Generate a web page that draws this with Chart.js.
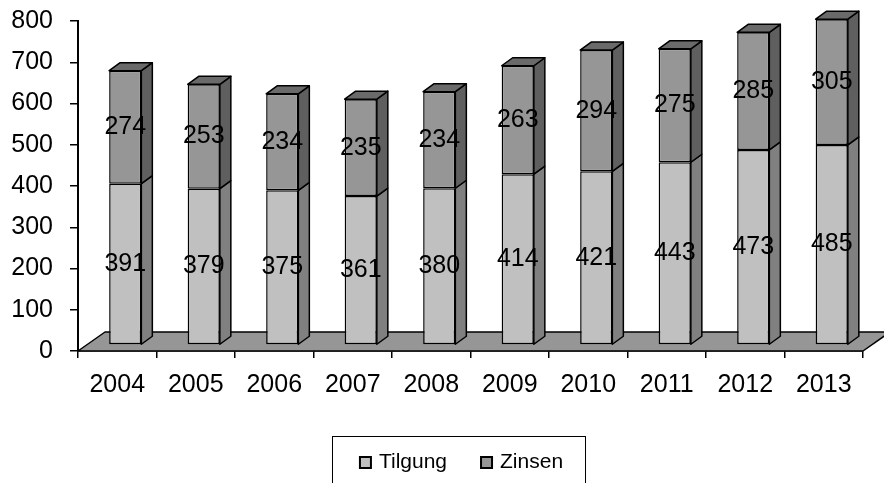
<!DOCTYPE html>
<html>
<head>
<meta charset="utf-8">
<script src="https://cdn.jsdelivr.net/npm/chart.js@4.4.1/dist/chart.umd.min.js"></script>
<style>
  html, body { margin: 0; padding: 0; background: #fff; }
  #wrap { width: 884px; height: 483px; }
</style>
</head>
<body>
<div id="wrap"><canvas id="chart" width="884" height="483"></canvas></div>
<script>
const years = ['2004', '2005', '2006', '2007', '2008', '2009', '2010', '2011', '2012', '2013']
const tilgung = [391, 379, 375, 361, 380, 414, 421, 443, 473, 485]
const zinsen = [274, 253, 234, 235, 234, 263, 294, 275, 285, 305]
const seriesNames = ['Tilgung', 'Zinsen']
const yMin = 0
const yMax = 800
const yStep = 100

const FONT = "'Liberation Sans', Arial, sans-serif"
const frontColors = ['#c0c0c0', '#969696']
const sideColors = ['#808080', '#5f5f5f']
const topColor = '#6a6a6a'
const floorColor = '#969696'

// fake 3d: bar depth, bar offset from the front of the floor, floor depth
const depth = { dx: 11, dy: -8 }
const shift = { dx: 8, dy: -6 }
const floorDepth = { dx: 27, dy: -19 }

function poly(ctx, pts, fill) {
    ctx.beginPath()
    ctx.moveTo(pts[0][0], pts[0][1])
    for (let i = 1; i < pts.length; i++) ctx.lineTo(pts[i][0], pts[i][1])
    ctx.closePath()
    ctx.fillStyle = fill
    ctx.fill()
    ctx.lineWidth = 1.5
    ctx.strokeStyle = '#000'
    ctx.lineJoin = 'round'
    ctx.stroke()
}

const bars3d = {
    id: 'bars3d',
    beforeDatasetsDraw(chart) {
        const { ctx, chartArea: a } = chart
        ctx.save()
        poly(ctx, [
            [a.left, a.bottom],
            [a.right, a.bottom],
            [a.right + floorDepth.dx, a.bottom + floorDepth.dy],
            [a.left + floorDepth.dx, a.bottom + floorDepth.dy]
        ], floorColor)
        ctx.restore()
        ctx.save()
        ctx.translate(shift.dx, shift.dy)
    },
    afterDatasetsDraw(chart) {
        const ctx = chart.ctx
        const last = chart.data.datasets.length - 1
        chart.data.datasets.forEach((ds, i) => {
            chart.getDatasetMeta(i).data.forEach(bar => {
                const { x, y, base, width } = bar.getProps(['x', 'y', 'base', 'width'], true)
                const l = x - width / 2, r = x + width / 2
                poly(ctx, [[r, y], [r + depth.dx, y + depth.dy], [r + depth.dx, base + depth.dy], [r, base]], sideColors[i])
                if (i === last) {
                    poly(ctx, [[l, y], [l + depth.dx, y + depth.dy], [r + depth.dx, y + depth.dy], [r, y]], topColor)
                }
            })
        })
        // value labels in the middle of each front face
        ctx.fillStyle = '#000'
        ctx.font = '25px ' + FONT
        ctx.textAlign = 'center'
        ctx.textBaseline = 'middle'
        chart.data.datasets.forEach((ds, i) => {
            chart.getDatasetMeta(i).data.forEach((bar, j) => {
                const { x, y, base } = bar.getProps(['x', 'y', 'base'], true)
                ctx.fillText(String(ds.data[j]), x, (y + base) / 2)
            })
        })
        ctx.restore()
    }
}

const boxLegend = {
    id: 'boxLegend',
    afterDraw(chart) {
        const ctx = chart.ctx
        const box = { x: 332, y: 436, w: 253, h: 60 }
        ctx.save()
        ctx.lineWidth = 1
        ctx.strokeStyle = '#000'
        ctx.strokeRect(box.x + 0.5, box.y + 0.5, box.w, box.h)

        ctx.font = '21px ' + FONT
        ctx.textBaseline = 'alphabetic'
        ctx.textAlign = 'left'
        const sw = 11, gap = 8, between = 34
        const widths = chart.data.datasets.map(d => ctx.measureText(d.label).width)
        const total = widths.reduce((s, w) => s + sw + gap + w, 0) + between * (widths.length - 1)
        let x = box.x + box.w / 2 - total / 2 + 3
        const baseline = 468
        chart.data.datasets.forEach((d, i) => {
            ctx.fillStyle = d.backgroundColor
            ctx.fillRect(x, baseline - 11, sw, sw)
            ctx.lineWidth = 2
            ctx.strokeStyle = '#000'
            ctx.strokeRect(x, baseline - 11, sw, sw)
            ctx.fillStyle = '#000'
            ctx.fillText(d.label, x + sw + gap, baseline)
            x += sw + gap + widths[i] + between
        })
        ctx.restore()
    }
}

new Chart(document.getElementById('chart'), {
    type: 'bar',
    data: {
        labels: years,
        datasets: [tilgung, zinsen].map((values, i) => ({
            label: seriesNames[i],
            data: values,
            backgroundColor: frontColors[i],
            borderColor: '#000',
            borderWidth: 1.5,
            borderSkipped: false,
            barPercentage: 0.41,
            categoryPercentage: 1,
            clip: false
        }))
    },
    options: {
        responsive: false,
        animation: false,
        events: [],
        layout: { padding: { top: 21, right: 21, left: 0, bottom: 0 } },
        plugins: {
            legend: { display: false },
            tooltip: { enabled: false }
        },
        scales: {
            x: {
                stacked: true,
                afterFit: s => { s.height = 132; s.paddingLeft = 0; s.paddingRight = 0 },
                grid: { drawOnChartArea: false, color: '#000', lineWidth: 1.5, tickLength: 7 },
                border: { color: '#000', width: 1.5 },
                ticks: { color: '#000', padding: 12, font: { family: FONT, size: 25 }, maxRotation: 0 }
            },
            y: {
                stacked: true,
                min: yMin,
                max: yMax,
                afterFit: s => { s.width = 78; s.paddingTop = 0; s.paddingBottom = 0 },
                grid: { drawOnChartArea: false, color: '#000', lineWidth: 1.5, tickLength: 8 },
                border: { color: '#000', width: 2 },
                ticks: { stepSize: yStep, color: '#000', padding: 17, font: { family: FONT, size: 25 } }
            }
        }
    },
    plugins: [bars3d, boxLegend]
})
</script>
</body>
</html>
